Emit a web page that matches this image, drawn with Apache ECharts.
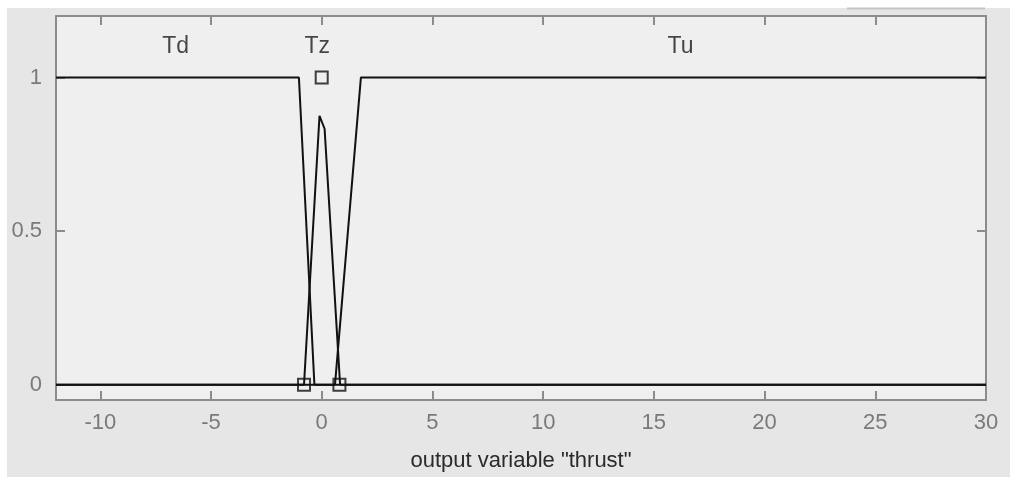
<!DOCTYPE html>
<html>
<head>
<meta charset="utf-8">
<script src="https://cdn.jsdelivr.net/npm/echarts@6/dist/echarts.min.js"></script>
<style>
html,body{margin:0;padding:0;background:#ffffff;}
#chart{width:1010px;height:477px;}
</style>
</head>
<body>
<div id="chart"></div>
<script>
// ---- data ----
const xTicks = [-10, -5, 0, 5, 10, 15, 20, 25, 30];
const yTicks = [0, 0.5, 1];
const tdX = [-12, -1.03, -0.33, 30];
const tdY = [1, 1, 0, 0];
const tzX = [-12, -0.8, -0.1, 0.13, 0.83, 30];
const tzY = [0, 0, 0.875, 0.833, 0, 0];
const tuX = [-12, 0.6, 1.77, 30];
const tuY = [0, 0, 1, 1];
const markerX = [-0.8, 0, 0.8];
const markerY = [0, 1, 0];
const mfNames = ['Td', 'Tz', 'Tu'];
const mfLabelX = [-6.6, -0.2, 16.2];
const mfLabelY = [1.1, 1.1, 1.1];
const xLabel = 'output variable "thrust"';

const zip = (xs, ys) => xs.map((x, i) => [x, ys[i]]);

const chart = echarts.init(document.getElementById('chart'), null, {renderer: 'canvas'});
const axisGray = '#8c8c8c';
const tickLabelStyle = {color: '#7a7a7a', fontFamily: 'Liberation Sans, Arial, sans-serif', fontSize: 22};

function xAxisDef(pos, withLabels) {
  return {
    type: 'value', position: pos, min: -12, max: 30,
    name: withLabels ? xLabel : '',
    nameLocation: 'middle', nameGap: 50,
    nameTextStyle: {color: '#2a2a2a', fontFamily: 'Liberation Sans, Arial, sans-serif', fontSize: 22},
    axisLine: {show: true, onZero: false, lineStyle: {color: axisGray, width: 2}},
    axisTick: {show: true, inside: true, length: 9, customValues: xTicks, lineStyle: {color: axisGray, width: 2}},
    axisLabel: {show: withLabels, customValues: xTicks, margin: 12, ...tickLabelStyle},
    splitLine: {show: false}
  };
}
function yAxisDef(pos, withLabels) {
  return {
    type: 'value', position: pos, min: -0.05, max: 1.2,
    axisLine: {show: true, onZero: false, lineStyle: {color: axisGray, width: 2}},
    axisTick: {show: true, inside: true, length: 9, customValues: yTicks, lineStyle: {color: axisGray, width: 2}},
    axisLabel: {show: withLabels, customValues: yTicks, margin: 14, ...tickLabelStyle},
    splitLine: {show: false}
  };
}

const lineStyle = {color: '#111111', width: 2};
function mfSeries(name, xs, ys) {
  return {
    name, type: 'line', data: zip(xs, ys), symbol: 'none', smooth: false,
    lineStyle, z: 3, silent: true, animation: false
  };
}

chart.setOption({
  animation: false,
  backgroundColor: 'transparent',
  graphic: [
    {type: 'rect', shape: {x: 7, y: 8, width: 1003, height: 469}, style: {fill: '#e6e6e6'}, z: -10},
    {type: 'line', shape: {x1: 847, y1: 8.5, x2: 985, y2: 8.5}, style: {stroke: '#c4c4c4', lineWidth: 2}, z: -9}
  ],
  grid: {left: 56, right: 24, top: 16, bottom: 77, show: true, backgroundColor: '#efefef', borderWidth: 0,
    containLabel: false, outerBoundsMode: 'none'},
  xAxis: [xAxisDef('bottom', true), xAxisDef('top', false)],
  yAxis: [yAxisDef('left', true), yAxisDef('right', false)],
  series: [
    mfSeries('Td', tdX, tdY),
    mfSeries('Tz', tzX, tzY),
    mfSeries('Tu', tuX, tuY),
    {
      type: 'scatter', data: zip(markerX, markerY), symbol: 'rect', symbolSize: 12,
      itemStyle: {color: 'rgba(0,0,0,0)', borderColor: '#111111', borderWidth: 2}, z: 4, silent: true
    },
    {
      type: 'scatter', data: mfLabelX.map((x, i) => ({value: [x, mfLabelY[i]], name: mfNames[i]})),
      symbolSize: 0, silent: true, z: 5,
      label: {show: true, position: 'inside', formatter: p => p.name, color: '#1a1a1a',
        fontFamily: 'Liberation Sans, Arial, sans-serif', fontSize: 23}
    }
  ]
});
</script>
</body>
</html>
